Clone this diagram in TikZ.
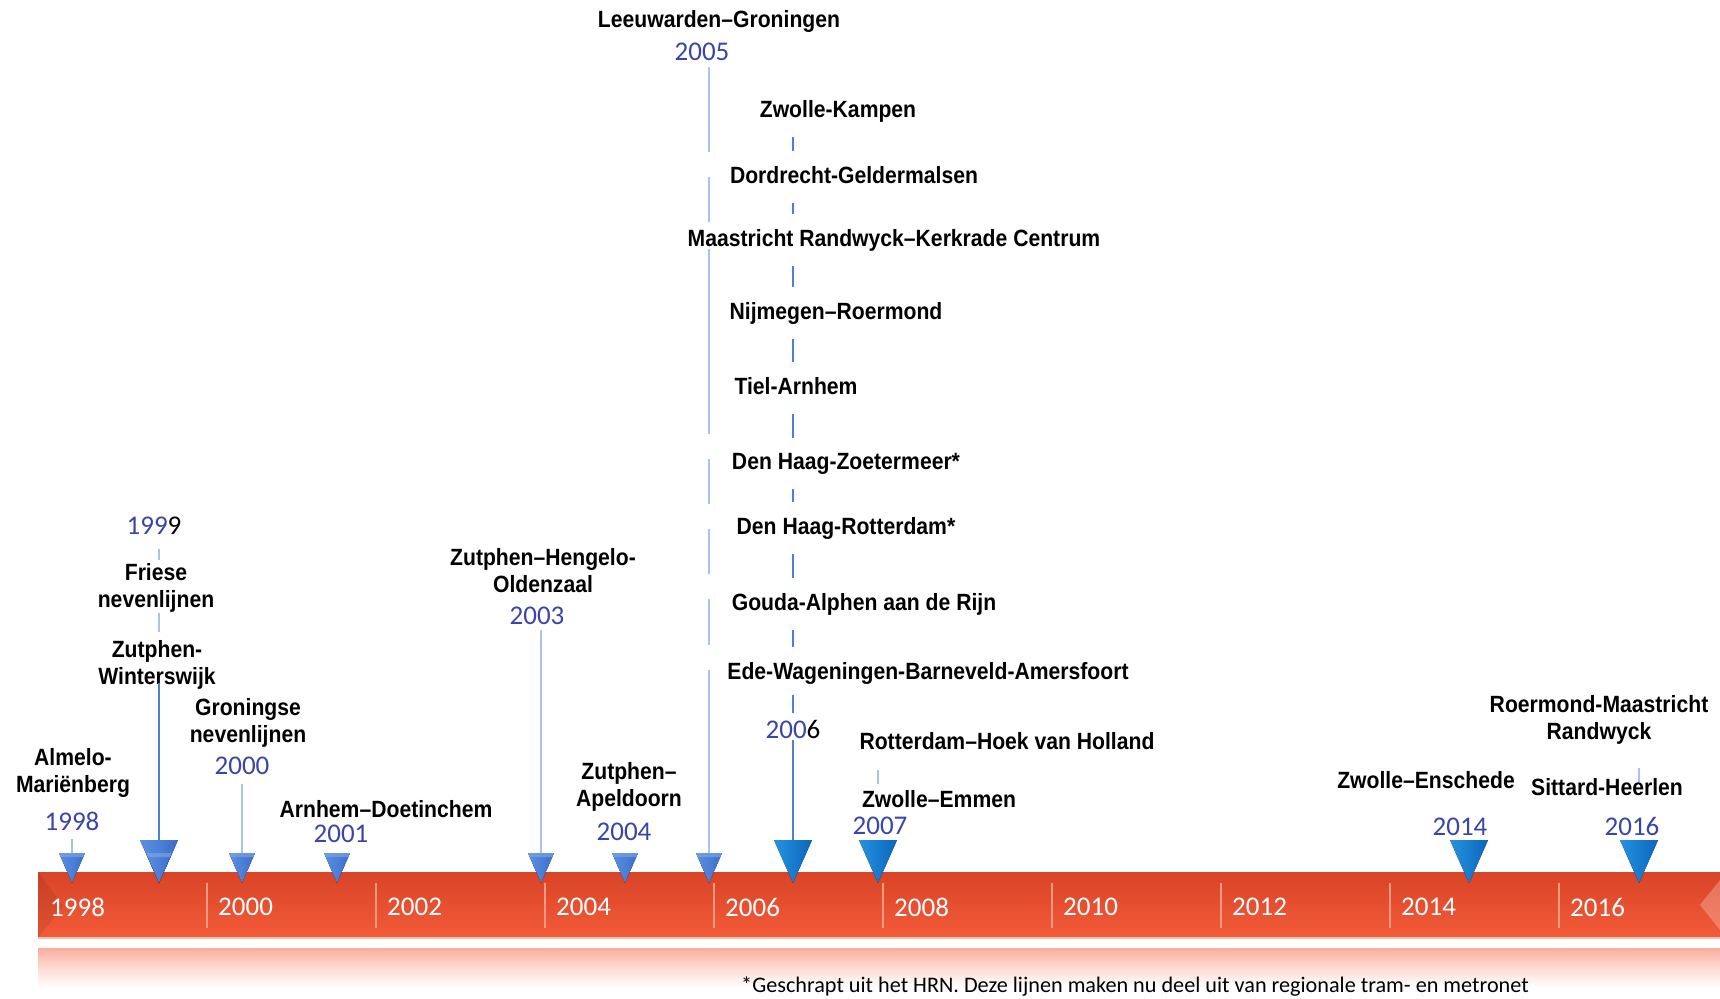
\documentclass[tikz,border=0pt]{standalone}
\usepackage{fontspec}
\usepackage{tikz}
\usetikzlibrary{positioning}
\usepackage{xcolor}

\newfontfamily\lblfam{Liberation Sans}[FakeStretch=0.9]
\newfontfamily\yrfam{Carlito}
\newcommand{\lblfont}{\lblfam\bfseries\fontsize{23.5}{27.5}\selectfont}
\newcommand{\yrfont}{\yrfam\fontsize{27}{30}\selectfont}
\newcommand{\notefont}{\yrfam\fontsize{22.2}{26}\selectfont}

\definecolor{yrblue}{HTML}{3A45A8}
\definecolor{linelight}{HTML}{A9C3EE}
\definecolor{lineblue}{HTML}{4F7FD5}
\definecolor{triL}{HTML}{5B90E2}
\definecolor{triR}{HTML}{3C6DCA}
\definecolor{triB}{HTML}{79A2E8}
\definecolor{brL}{HTML}{2592E0}
\definecolor{brR}{HTML}{0B66BB}
\definecolor{barT}{HTML}{D94427}
\definecolor{barB}{HTML}{F35B39}
\definecolor{bartick}{HTML}{F59A80}

% markers: small and big triangles hanging from a top point
\newcommand{\smallmarker}[1]{%
  \fill[left color=triL,right color=triR] (#1) ++(-13,0) -- ++(26,0) -- ++(-13,30) -- cycle;
  \fill[triB,opacity=0.7] (#1) ++(-13,0) -- ++(26,0) -- ++(-2,4) -- ++(-22,0) -- cycle;}
\newcommand{\bigmarker}[3]{%
  \fill[left color=#2,right color=#3] (#1) ++(-19,0) -- ++(38,0) -- ++(-19,43) -- cycle;}

\begin{document}
\begin{tikzpicture}[
  x=1pt,y=-1pt,
  mylabel/.style={font=\lblfont,align=center,inner sep=0pt,anchor=north},
  myyear/.style={font=\yrfont,text=yrblue,inner sep=0pt,anchor=north},
  mybar/.style={font=\yrfont,text=white,inner sep=0pt,anchor=north west},
  myline/.style={draw=linelight,line width=1.5pt},
  mythick/.style={draw=lineblue,line width=2.5pt},
  mydash/.style={draw=lineblue,line width=2pt,shorten <=20pt,shorten >=15pt},
  mytick/.style={draw=bartick,line width=1.2pt}
]
\useasboundingbox (0,0) rectangle (1720,998);
\fill[white] (0,0) rectangle (1720,998);

% the time bar
\fill[top color=barT,bottom color=barB] (38,872) rectangle (1720,938);
\fill[black,opacity=0.08] (38,872) -- (63,906) -- (38,938) -- cycle;
\fill[white,opacity=0.25] (1700,905) -- (1720,880) -- (1720,930) -- cycle;
\draw[draw=barB!40,line width=1.5pt] (38,938) -- (1720,938);
\fill[top color=barB!50,bottom color=white,middle color=barB!22] (38,948) rectangle (1720,988);
\draw[mytick] (207,883) -- (207,928);
\draw[mytick] (376,883) -- (376,928);
\draw[mytick] (545,883) -- (545,928);
\draw[mytick] (714,883) -- (714,928);
\draw[mytick] (883,883) -- (883,928);
\draw[mytick] (1052,883) -- (1052,928);
\draw[mytick] (1221,883) -- (1221,928);
\draw[mytick] (1390,883) -- (1390,928);
\draw[mytick] (1559,883) -- (1559,928);
\node[mybar] (B1998) at (50,898) {1998};
\node[mybar] (B2000) at (218,898) {2000};
\node[mybar] (B2002) at (387,898) {2002};
\node[mybar] (B2004) at (556,898) {2004};
\node[mybar] (B2006) at (725,898) {2006};
\node[mybar] (B2008) at (894,898) {2008};
\node[mybar] (B2010) at (1063,898) {2010};
\node[mybar] (B2012) at (1232,898) {2012};
\node[mybar] (B2014) at (1401,898) {2014};
\node[mybar] (B2016) at (1570,898) {2016};

% marker tops
\coordinate (T1998) at (72,853);
\coordinate (T1999s) at (159,853);
\coordinate (T1999) at (159,840);
\coordinate (T2000) at (242,853);
\coordinate (T2001) at (337,853);
\coordinate (T2003) at (541,853);
\coordinate (T2004) at (625,853);
\coordinate (T2005) at (709,853);
\coordinate (T2006) at (793,840);
\coordinate (T2007) at (878,840);
\coordinate (T2014) at (1469,840);
\coordinate (T2016) at (1639,840);

% labels
\node[myyear] (Y1998) at (72,812) {1998};
\node[mylabel] (L1998) at (73,748) {Almelo-\\Mariënberg};
\node[myyear] (Y1999) at (154,517) {199{\color{black}9}};
\node[mylabel] (L1999a) at (156,563) {Friese\\nevenlijnen};
\node[mylabel] (L1999b) at (157,640) {Zutphen-\\Winterswijk};
\node[mylabel] (L2000) at (248,698) {Groningse\\nevenlijnen};
\node[myyear] (Y2000) at (242,757) {2000};
\node[mylabel] (L2001) at (386,800) {Arnhem–Doetinchem};
\node[myyear] (Y2001) at (341,825) {2001};
\node[mylabel] (L2003) at (543,548) {Zutphen–Hengelo-\\Oldenzaal};
\node[myyear] (Y2003) at (537,607) {2003};
\node[mylabel] (L2004) at (629,762) {Zutphen–\\Apeldoorn};
\node[myyear] (Y2004) at (624,823) {2004};
\node[mylabel] (L2005) at (719,10) {Leeuwarden–Groningen};
\node[myyear] (Y2005) at (702,43) {2005};
\node[mylabel] (L2006a) at (838,100) {Zwolle-Kampen};
\node[mylabel] (L2006b) at (854,166) {Dordrecht-Geldermalsen};
\node[mylabel] (L2006c) at (894,229) {Maastricht Randwyck–Kerkrade Centrum};
\node[mylabel] (L2006d) at (836,302) {Nijmegen–Roermond};
\node[mylabel] (L2006e) at (796,377) {Tiel-Arnhem};
\node[mylabel] (L2006f) at (846,453) {Den Haag-Zoetermeer*};
\node[mylabel] (L2006g) at (846,517) {Den Haag-Rotterdam*};
\node[mylabel] (L2006h) at (864,593) {Gouda-Alphen aan de Rijn};
\node[mylabel] (L2006i) at (928,662) {Ede-Wageningen-Barneveld-Amersfoort};
\node[myyear] (Y2006) at (793,720) {200{\color{black}6}};
\node[mylabel] (L2007a) at (1007,732) {Rotterdam–Hoek van Holland};
\node[mylabel] (L2007b) at (939,790) {Zwolle–Emmen};
\node[myyear] (Y2007) at (880,817) {2007};
\node[mylabel] (L2014) at (1426,771) {Zwolle–Enschede};
\node[myyear] (Y2014) at (1460,818) {2014};
\node[mylabel] (L2016a) at (1599,695) {Roermond-Maastricht\\Randwyck};
\node[mylabel] (L2016b) at (1607,778) {Sittard-Heerlen};
\node[myyear] (Y2016) at (1632,817) {2016};
\node[font=\notefont,anchor=base west,inner sep=0pt] (N) at (741,992)
  {*Geschrapt uit het HRN. Deze lijnen maken nu deel uit van regionale tram- en metronet};

% connectors
\draw[myline,shorten <=8pt] (Y1998.south -| T1998) -- (T1998);
\draw[myline,shorten <=14pt,shorten >=3pt] (Y1999.south -| T1999) -- (L1999a.north -| T1999);
\draw[myline,shorten >=8pt] (L1999a.south -| T1999) -- (L1999b.north -| T1999);
\draw[mythick,shorten <=-7pt] (L1999b.south -| T1999) -- (T1999);
\draw[myline,shorten <=9pt] (Y2000.south -| T2000) -- (T2000);
\draw[myline,shorten <=5pt] (Y2003.south -| T2003) -- (T2003);
\draw[myline,shorten <=6pt,dash pattern=on 85pt off 25pt on 45pt off 27pt on 185pt off 25pt on 45pt off 25pt on 45pt off 25pt on 46pt off 25pt on 300pt]
  (Y2005.south -| T2005) -- (T2005);
\draw[mydash] (L2006a.base -| T2006) -- (L2006b.north -| T2006);
\draw[mydash] (L2006b.base -| T2006) -- (L2006c.north -| T2006);
\draw[mydash] (L2006c.base -| T2006) -- (L2006d.north -| T2006);
\draw[mydash] (L2006d.base -| T2006) -- (L2006e.north -| T2006);
\draw[mydash] (L2006e.base -| T2006) -- (L2006f.north -| T2006);
\draw[mydash] (L2006f.base -| T2006) -- (L2006g.north -| T2006);
\draw[mydash] (L2006g.base -| T2006) -- (L2006h.north -| T2006);
\draw[mydash] (L2006h.base -| T2006) -- (L2006i.north -| T2006);
\draw[mydash,shorten <=16pt,shorten >=7pt] (L2006i.base -| T2006) -- (Y2006.north -| T2006);
\draw[mythick,shorten <=1pt] (Y2006.south -| T2006) -- (T2006);
\draw[myline,shorten <=21pt,shorten >=6pt] (L2007a.base -| T2007) -- (L2007b.north -| T2007);
\draw[myline,shorten <=23pt,shorten >=-4pt] (L2016a.south -| T2016) -- (L2016b.north -| T2016);

% markers
\smallmarker{T1998}
\bigmarker{T1999}{triL}{triR}
\smallmarker{T1999s}
\smallmarker{T2000}
\smallmarker{T2001}
\smallmarker{T2003}
\smallmarker{T2004}
\smallmarker{T2005}
\bigmarker{T2006}{brL}{brR}
\bigmarker{T2007}{brL}{brR}
\bigmarker{T2014}{brL}{brR}
\bigmarker{T2016}{brL}{brR}
\end{tikzpicture}
\end{document}
